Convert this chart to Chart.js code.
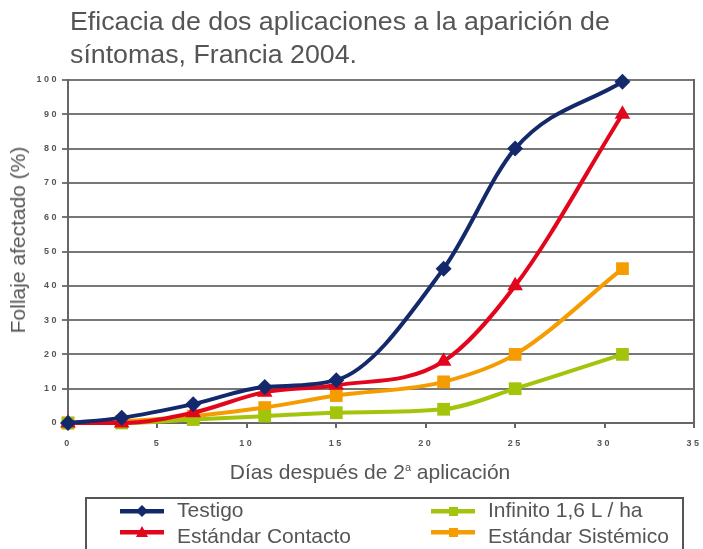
<!DOCTYPE html>
<html>
<head>
<meta charset="utf-8">
<script src="https://cdn.jsdelivr.net/npm/chart.js@4"></script>
<style>
  body { margin: 0; background: #fff; font-family: "Liberation Sans", Arial, sans-serif; }
  #wrap { position: relative; width: 703px; height: 549px; overflow: hidden; }
  #chart { position: absolute; left: 0; top: 0; }
  #title { position: absolute; left: 70px; top: 5px; font-size: 25px; line-height: 33px; color: #555;
           white-space: nowrap; transform-origin: left top; transform: scaleX(1.07); }
  #ytitle { position: absolute; left: 18px; top: 240px; font-size: 21px; color: #555; white-space: nowrap;
            transform: translate(-50%, -50%) rotate(-90deg); }
  #xtitle { position: absolute; left: 370px; top: 472px; font-size: 21px; color: #555; white-space: nowrap;
            transform: translate(-50%, -50%); }
  #xtitle sup { font-size: 11px; }
  #legend { position: absolute; left: 85px; top: 497px; width: 595px; height: 70px; border: 2px solid #555; }
  .mark { position: absolute; }
  .name { position: absolute; font-size: 21px; line-height: 21px; color: #555; white-space: nowrap; }
</style>
</head>
<body>
<div id="wrap">
  <canvas id="chart" width="703" height="549"></canvas>
  <div id="title">Eficacia de dos aplicaciones a la aparición de<br>síntomas, Francia 2004.</div>
  <div id="ytitle">Follaje afectado (%)</div>
  <div id="xtitle">Días después de 2<sup>a</sup> aplicación</div>
  <div id="legend"></div>
</div>
<script>
  // data
  const days = [0, 3, 7, 11, 15, 21, 25, 31];
  const testigo = [0, 1.5, 5.5, 10.5, 12.5, 45, 80, 99.5];
  const contacto = [0, 0, 3, 9, 11, 18, 40, 90];
  const infinito = [0, 0, 1, 2, 3, 4, 10, 20];
  const sistemico = [0, 0.5, 2, 4.5, 8, 12, 20, 45];

  const seriesNames = ["Testigo", "Estándar Contacto", "Infinito 1,6 L / ha", "Estándar Sistémico"];
  const seriesColors = ["#14296b", "#e3051b", "#a2c40b", "#f59c00"];
  const seriesMarkers = ["rectRot", "triangle", "rect", "rect"];
  const seriesValues = [testigo, contacto, infinito, sistemico];
  const markerSizes = [8, 9, 9, 9];

  const datasets = seriesValues.map((vals, i) => ({
    label: seriesNames[i],
    data: vals.map((v, j) => ({ x: days[j], y: v })),
    borderColor: seriesColors[i],
    backgroundColor: seriesColors[i],
    borderWidth: 4,
    pointStyle: seriesMarkers[i],
    pointRadius: markerSizes[i],
    pointBorderWidth: 0,
    cubicInterpolationMode: "monotone",
    clip: false
  }));

  // letter spacing for the tick labels
  const spacing = {
    id: "spacing",
    beforeDraw(chart) { chart.ctx.letterSpacing = "2.5px"; }
  };

  const tickFont = { family: "Liberation Sans", size: 9, weight: "bold" };

  new Chart(document.getElementById("chart"), {
    type: "line",
    data: { datasets },
    plugins: [spacing],
    options: {
      responsive: false,
      animation: false,
      layout: { padding: { left: 0, right: 8, top: 80, bottom: 96 } },
      plugins: { legend: { display: false }, tooltip: { enabled: false } },
      scales: {
        x: {
          type: "linear",
          min: 0, max: 35,
          ticks: { stepSize: 5, color: "#555", font: tickFont, padding: 10 },
          grid: { drawOnChartArea: false, drawTicks: true, tickLength: 5, color: "#666", lineWidth: 2 },
          border: { color: "#666", width: 2 },
          afterFit(s) { s.height = 30; s.paddingLeft = 0; s.paddingRight = 0; }
        },
        y: {
          min: 0, max: 100,
          ticks: { stepSize: 10, color: "#555", font: tickFont, padding: 3 },
          grid: { color: "#777", lineWidth: 2, tickLength: 6 },
          border: { color: "#666", width: 2 },
          afterFit(s) { s.width = 68; s.paddingTop = 0; s.paddingBottom = 0; }
        },
        y2: {
          position: "right",
          min: 0, max: 100,
          ticks: { display: false },
          grid: { drawOnChartArea: false, drawTicks: false },
          border: { color: "#666", width: 2 },
          afterFit(s) { s.width = 0; }
        }
      }
    }
  });

  // legend drawn as html: [line left, line centre y, text top]
  const legend = document.getElementById("legend");
  const slots = [[33, 12, 0], [33, 33, 26], [344, 12, 0], [344, 33, 26]];
  seriesNames.forEach((name, i) => {
    const c = seriesColors[i];
    let mark;
    if (seriesMarkers[i] === "rectRot") mark = `<polygon points="22,4 28,10 22,16 16,10" fill="${c}"/>`;
    else if (seriesMarkers[i] === "triangle") mark = `<polygon points="22,4 28,15 16,15" fill="${c}"/>`;
    else mark = `<rect x="18" y="6" width="9" height="9" fill="${c}"/>`;
    const svg = document.createElement("div");
    svg.className = "mark";
    svg.style.left = slots[i][0] + "px";
    svg.style.top = (slots[i][1] - 10) + "px";
    svg.innerHTML = `<svg width="46" height="20" style="display:block"><rect x="0" y="8" width="44" height="4.5" fill="${c}"/>${mark}</svg>`;
    legend.appendChild(svg);
    const txt = document.createElement("div");
    txt.className = "name";
    txt.style.left = (slots[i][0] + 57) + "px";
    txt.style.top = slots[i][2] + "px";
    txt.textContent = name;
    legend.appendChild(txt);
  });
</script>
</body>
</html>
